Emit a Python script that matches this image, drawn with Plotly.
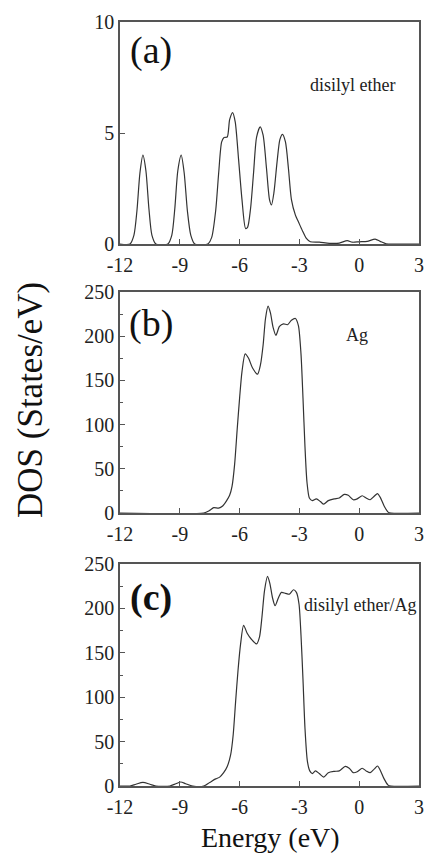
import plotly.graph_objects as go

# ---- data ----
energy_a = [-12.0, -11.5, -11.3, -11.15, -11.0, -10.85, -10.7, -10.55, -10.4, -10.2,
            -9.6, -9.4, -9.25, -9.1, -8.93, -8.78, -8.62, -8.45, -8.25,
            -7.6, -7.4, -7.2, -7.05, -6.9, -6.78, -6.62, -6.5, -6.35, -6.22, -6.05,
            -5.88, -5.7, -5.6, -5.45, -5.3, -5.15, -4.97, -4.82, -4.65, -4.5, -4.4,
            -4.28, -4.12, -3.98, -3.85, -3.7, -3.55, -3.4, -3.2, -3.05, -2.85, -2.65,
            -2.45, -2.0, -1.5, -1.0, -0.6, -0.35, 0.0, 0.4, 0.8, 1.05, 1.35, 1.5, 3.0]
dos_a = [0, 0, 0.4, 1.5, 3.2, 4.0, 3.3, 1.6, 0.4, 0,
         0, 0.4, 1.6, 3.3, 4.0, 3.2, 1.5, 0.4, 0,
         0, 0.3, 1.5, 3.2, 4.6, 4.8, 4.82, 5.6, 5.92, 5.5, 3.8,
         2.0, 0.7, 0.75, 1.6, 3.2, 4.8, 5.28, 4.9, 3.4, 2.0, 1.76,
         2.3, 3.7, 4.7, 4.94, 4.6, 3.4, 2.0, 1.3, 1.0, 0.6, 0.25,
         0.1, 0.08, 0.03, 0.04, 0.15, 0.08, 0.1, 0.12, 0.22, 0.12, 0.01, 0, 0]

energy_b = [-12.0, -7.8, -7.5, -7.3, -7.05, -6.85, -6.65, -6.5, -6.38, -6.25, -6.12,
            -6.0, -5.88, -5.72, -5.55, -5.35, -5.1, -4.95, -4.82, -4.7, -4.57, -4.45,
            -4.32, -4.18, -4.0, -3.8, -3.6, -3.4, -3.2, -3.05, -2.92, -2.82, -2.72,
            -2.62, -2.5, -2.35, -2.15, -1.95, -1.78, -1.55, -1.25, -1.0, -0.75, -0.55,
            -0.3, -0.1, 0.15, 0.35, 0.55, 0.75, 0.92, 1.05, 1.25, 1.45, 1.6, 3.0]
dos_b = [0, 0, 3, 6, 5.5, 8, 14, 20, 30, 55, 95,
         130, 160, 180, 175, 164, 157, 168, 190, 220, 234, 226,
         210, 201, 211, 214, 213, 218, 220, 212, 180, 130, 75,
         35, 17, 14, 16, 13, 10, 14, 16, 17, 21, 20,
         15, 16, 19.5, 17, 15, 19, 22, 18, 8, 1, 0, 0]

energy_c = [-12.0, -11.5, -11.2, -10.85, -10.5, -10.2, -9.5, -9.2, -8.95, -8.7, -8.35,
            -7.8, -7.5, -7.2, -7.0, -6.8, -6.62, -6.45, -6.32, -6.2, -6.08, -5.95,
            -5.8, -5.62, -5.4, -5.15, -5.0, -4.88, -4.75, -4.6, -4.48, -4.35, -4.22,
            -4.05, -3.9, -3.7, -3.5, -3.3, -3.15, -3.02, -2.92, -2.82, -2.72, -2.6,
            -2.48, -2.35, -2.2, -2.0, -1.78, -1.55, -1.25, -1.0, -0.7, -0.5, -0.3,
            -0.1, 0.15, 0.35, 0.55, 0.75, 0.92, 1.05, 1.25, 1.45, 1.6, 3.0]
dos_c = [0, 0, 2, 4, 2, 0, 0, 2.5, 4.5, 2.5, 0,
         0, 4, 8, 10, 15, 22, 35, 58, 95, 130, 160,
         181, 172, 165, 160, 168, 190, 220, 236, 228, 212, 203,
         212, 218, 217, 216, 221, 218, 205, 170, 120, 65, 28,
         17, 14, 17, 14, 10, 15, 16.5, 17, 22, 20, 15,
         16, 20, 17, 15, 19, 22.5, 18, 8, 1, 0, 0]

x_ticks = [-12, -9, -6, -3, 0, 3]
y_ticks_a = [0, 5, 10]
y_ticks_bc = [0, 50, 100, 150, 200, 250]
panel_tags = ["(a)", "(b)", "(c)"]
panel_names = ["disilyl ether", "Ag", "disilyl ether/Ag"]

W, H = 426, 854
FONT = "Liberation Serif"
AXC = "#555555"
LINEC = "#333333"

def py(p):
    return 1 - p / H

def px(p):
    return p / W

fig = go.Figure()
series = [(energy_a, dos_a), (energy_b, dos_b), (energy_c, dos_c)]
for i, (xs, ys) in enumerate(series):
    sfx = "" if i == 0 else str(i + 1)
    fig.add_trace(go.Scatter(x=xs, y=ys, mode="lines",
                             line=dict(color=LINEC, width=1.2, shape="spline", smoothing=0.7),
                             xaxis="x" + sfx, yaxis="y" + sfx, showlegend=False,
                             hoverinfo="skip"))

domains_y = [(22, 244), (292, 513), (564, 786)]
xdom = [px(120), px(419)]
yranges = [[0, 10], [0, 250], [0, 250]]
yticks = [y_ticks_a, y_ticks_bc, y_ticks_bc]

layout = dict(width=W, height=H, margin=dict(l=0, r=0, t=0, b=0),
              paper_bgcolor="white", plot_bgcolor="white",
              font=dict(family=FONT, color="#222222", size=20), showlegend=False)

for i in range(3):
    sfx = "" if i == 0 else str(i + 1)
    top, bot = domains_y[i]
    layout["xaxis" + sfx] = dict(domain=xdom, range=[-12, 3], tickvals=x_ticks,
                                 ticktext=[str(t) for t in x_ticks],
                                 ticks="inside", ticklen=5, tickwidth=1, tickcolor=AXC,
                                 showline=True, linecolor=AXC, linewidth=1.5, mirror=True,
                                 showgrid=False, zeroline=False, automargin=False,
                                 anchor="y" + sfx, tickfont=dict(size=20, family=FONT),
                                 ticklabelstandoff=2)
    yax = dict(domain=[py(bot), py(top)], range=yranges[i],
               tickvals=yticks[i], ticks="inside", ticklen=5, tickwidth=1,
               tickcolor=AXC,
               showline=True, linecolor=AXC, linewidth=1.5, mirror=True,
               showgrid=False, zeroline=False, automargin=False,
               anchor="x" + sfx, tickfont=dict(size=20, family=FONT),
               ticklabelstandoff=0)
    if i > 0:
        yax["minor"] = dict(dtick=25, ticks="inside", ticklen=3, tickcolor=AXC, tick0=0)
    layout["yaxis" + sfx] = yax

fig.update_layout(**layout)

tag_pos = [(151, 51), (151, 323), (151, 597)]
name_pos = [(352, 85), (357, 335), (360, 605)]
for i in range(3):
    tx, ty = tag_pos[i]
    fig.add_annotation(x=px(tx), y=py(ty), xref="paper", yref="paper",
                       text=("<b>%s</b>" % panel_tags[i]) if i == 2 else panel_tags[i],
                       showarrow=False, xanchor="center", yanchor="middle",
                       font=dict(family=FONT, size=38, color="#111111"))
    nx, ny = name_pos[i]
    fig.add_annotation(x=px(nx), y=py(ny), xref="paper", yref="paper",
                       text=panel_names[i], showarrow=False,
                       xanchor="center", yanchor="middle",
                       font=dict(family=FONT, size=18, color="#222222"))

fig.add_annotation(x=px(30), y=py(400), xref="paper", yref="paper",
                   text="DOS (States/eV)", textangle=-90, showarrow=False,
                   xanchor="center", yanchor="middle",
                   font=dict(family=FONT, size=35, color="#111111"))
fig.add_annotation(x=px(270), y=py(837), xref="paper", yref="paper",
                   text="Energy (eV)", showarrow=False,
                   xanchor="center", yanchor="middle",
                   font=dict(family=FONT, size=28, color="#111111"))

fig.write_html("out.html", config={"displayModeBar": False},
               post_script="document.body.style.margin='0';document.body.style.overflow='hidden';")
